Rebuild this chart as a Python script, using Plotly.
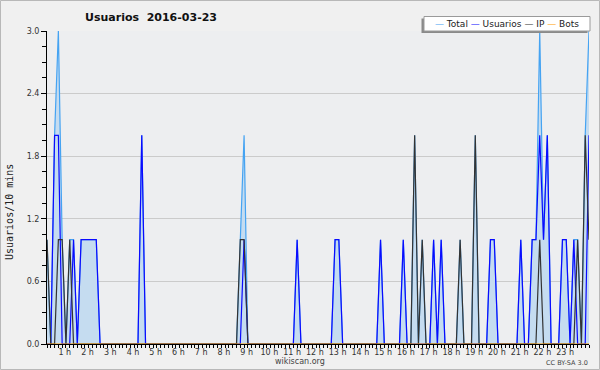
import plotly.graph_objects as go

# ---- data: 10-minute counts for 2016-03-23 (one row per hour, 6 values) ----
total_rows = [
    [1, 0, 2, 3, 1, 0], [1, 1, 0, 1, 1, 1], [1, 1, 0, 0, 0, 0], [0, 0, 0, 0, 0, 0],
    [0, 2, 0, 0, 0, 0], [0, 0, 0, 0, 0, 0], [0, 0, 0, 0, 0, 0], [0, 0, 0, 0, 0, 0],
    [0, 0, 0, 1, 2, 0], [0, 0, 0, 0, 0, 0], [0, 0, 0, 0, 0, 0], [1, 0, 0, 0, 0, 0],
    [0, 0, 0, 0, 1, 1], [0, 0, 0, 0, 0, 0], [0, 0, 0, 0, 1, 0], [0, 0, 0, 0, 1, 0],
    [0, 2, 0, 1, 0, 0], [1, 0, 1, 0, 0, 0], [0, 1, 0, 0, 0, 2], [0, 0, 0, 1, 1, 0],
    [0, 0, 0, 0, 0, 1], [0, 0, 1, 1, 3, 1], [2, 0, 0, 0, 1, 1], [0, 1, 1, 0, 2, 3],
]
usuarios_rows = [
    [0, 0, 2, 2, 0, 0], [0, 1, 0, 1, 1, 1], [1, 1, 0, 0, 0, 0], [0, 0, 0, 0, 0, 0],
    [0, 2, 0, 0, 0, 0], [0, 0, 0, 0, 0, 0], [0, 0, 0, 0, 0, 0], [0, 0, 0, 0, 0, 0],
    [0, 0, 0, 0, 1, 0], [0, 0, 0, 0, 0, 0], [0, 0, 0, 0, 0, 0], [1, 0, 0, 0, 0, 0],
    [0, 0, 0, 0, 1, 1], [0, 0, 0, 0, 0, 0], [0, 0, 0, 0, 1, 0], [0, 0, 0, 0, 1, 0],
    [0, 0, 0, 0, 0, 0], [1, 0, 1, 0, 0, 0], [0, 0, 0, 0, 0, 0], [0, 0, 0, 1, 1, 0],
    [0, 0, 0, 0, 0, 1], [0, 0, 1, 1, 2, 1], [2, 0, 0, 0, 1, 1], [0, 1, 0, 0, 0, 2],
]
ip_rows = [
    [1, 0, 0, 1, 1, 0], [1, 0, 0, 0, 0, 0], [0, 0, 0, 0, 0, 0], [0, 0, 0, 0, 0, 0],
    [0, 0, 0, 0, 0, 0], [0, 0, 0, 0, 0, 0], [0, 0, 0, 0, 0, 0], [0, 0, 0, 0, 0, 0],
    [0, 0, 0, 1, 1, 0], [0, 0, 0, 0, 0, 0], [0, 0, 0, 0, 0, 0], [0, 0, 0, 0, 0, 0],
    [0, 0, 0, 0, 0, 0], [0, 0, 0, 0, 0, 0], [0, 0, 0, 0, 0, 0], [0, 0, 0, 0, 0, 0],
    [0, 2, 0, 1, 0, 0], [0, 0, 0, 0, 0, 0], [0, 1, 0, 0, 0, 2], [0, 0, 0, 0, 0, 0],
    [0, 0, 0, 0, 0, 0], [0, 0, 0, 0, 1, 0], [0, 0, 0, 0, 0, 0], [0, 0, 1, 0, 2, 1],
]
bots_rows = [[0, 0, 0, 0, 0, 0] for _ in range(24)]

tick_hours = [1, 2, 3, 4, 5, 6, 7, 8, 9, 10, 11, 12, 13, 14, 15, 16, 17, 18, 19, 20, 21, 22, 23]
tick_labels = ["1 h", "2 h", "3 h", "4 h", "5 h", "6 h", "7 h", "8 h", "9 h", "10 h", "11 h", "12 h",
               "13 h", "14 h", "15 h", "16 h", "17 h", "18 h", "19 h", "20 h", "21 h", "22 h", "23 h"]
y_ticks = [0.0, 0.6, 1.2, 1.8, 2.4, 3.0]
y_labels = ["0.0", "0.6", "1.2", "1.8", "2.4", "3.0"]

total = [v for r in total_rows for v in r]
usuarios = [v for r in usuarios_rows for v in r]
ip = [v for r in ip_rows for v in r]
bots = [v for r in bots_rows for v in r]
x = [i / 6 for i in range(len(total))]  # time in hours (10-minute steps)

# ---- layout geometry (pixels) ----
W, H = 600, 370
ML, MR, MT, MB = 47, 11, 31, 26
PW, PH = W - ML - MR, H - MT - MB


def px(xp):
    return (xp - ML) / PW


def py(yp):
    return (H - MB - yp) / PH


C_TOTAL = "#45a3f2"
C_US = "#0a0aff"
C_IP = "#333333"
C_BOTS = "#ff9c00"

fig = go.Figure()
fig.add_trace(go.Scatter(x=x, y=total, mode="lines", name="Total",
                         line=dict(color=C_TOTAL, width=1.2), fill="tozeroy",
                         fillcolor="#c5dcf0", showlegend=False))
fig.add_trace(go.Scatter(x=x, y=usuarios, mode="lines", name="Usuarios",
                         line=dict(color=C_US, width=1.2), showlegend=False))
fig.add_trace(go.Scatter(x=x, y=ip, mode="lines", name="IP",
                         line=dict(color=C_IP, width=1.2), showlegend=False))
fig.add_trace(go.Scatter(x=x, y=bots, mode="lines", name="Bots",
                         line=dict(color=C_BOTS, width=1.2), showlegend=False))

font_main = "DejaVu Sans"

fig.update_layout(
    width=W, height=H,
    margin=dict(l=ML, r=MR, t=MT, b=MB, pad=0),
    paper_bgcolor="#f0f0f0",
    plot_bgcolor="#edeef0",
    font=dict(family=font_main, size=8, color="#333333"),
    title=dict(text="Usuarios\u00a0\u00a02016-03-23", x=151 / W, xanchor="center",
               y=1 - 17 / H, yanchor="middle",
               font=dict(family=font_main, size=11, color="#111111", weight="bold")),
    xaxis=dict(range=[0, x[-1]], showgrid=False, zeroline=False,
               showline=True, linecolor="black", linewidth=1,
               ticks="outside", ticklen=3, tickcolor="black", tickwidth=1,
               tickvals=tick_hours, ticktext=tick_labels,
               tickfont=dict(family=font_main, size=8, color="#333333"),
               ticklabelshift=-5, ticklabelstandoff=-3,
               minor=dict(dtick=1 / 6, tick0=0, ticks="outside", ticklen=3,
                          tickcolor="black", tickwidth=1, showgrid=False)),
    yaxis=dict(range=[0, 3], showgrid=True, gridcolor="#cbcbcb", gridwidth=1,
               zeroline=False, showline=True, linecolor="black", linewidth=1,
               ticks="outside", ticklen=5, tickcolor="black", tickwidth=1,
               tickvals=y_ticks, ticktext=y_labels,
               tickfont=dict(family=font_main, size=8, color="#333333"),
               minor=dict(dtick=0.15, tick0=0, ticks="outside", ticklen=4,
                          tickcolor="black", tickwidth=1, showgrid=False)),
    showlegend=False,
)

# figure border
fig.add_shape(type="rect", xref="paper", yref="paper",
              x0=px(0.5), x1=px(W - 0.5), y0=py(H - 0.5), y1=py(0.5),
              line=dict(color="#b8b8b8", width=1), fillcolor="rgba(0,0,0,0)", layer="above")

# legend box with shadow
LX0, LX1, LY0, LY1 = 424, 590, 16.5, 31
fig.add_shape(type="rect", xref="paper", yref="paper",
              x0=px(LX0 - 2.5), x1=px(LX1 - 2.5), y0=py(LY1 + 2), y1=py(LY0 + 2),
              line=dict(width=0), fillcolor="#8a8a8a", layer="above")
fig.add_shape(type="rect", xref="paper", yref="paper",
              x0=px(LX0), x1=px(LX1), y0=py(LY1), y1=py(LY0),
              line=dict(color="#9a9a9a", width=1), fillcolor="white", layer="above")
legend_text = (f"<span style='color:{C_TOTAL}'>—</span> Total "
               f"<span style='color:{C_US}'>—</span> Usuarios "
               f"<span style='color:{C_IP}'>—</span> IP "
               f"<span style='color:{C_BOTS}'>—</span> Bots")
fig.add_annotation(text=legend_text, xref="paper", yref="paper",
                   x=px((LX0 + LX1) / 2), y=py((LY0 + LY1) / 2),
                   xanchor="center", yanchor="middle", showarrow=False,
                   font=dict(family=font_main, size=9, color="#222222"))

# y-axis title
fig.add_annotation(text="Usuarios/10 mins", xref="paper", yref="paper",
                   x=px(9), y=py(212), xanchor="center", yanchor="middle",
                   textangle=-90, showarrow=False,
                   font=dict(family="DejaVu Sans Mono", size=10, color="#222222"))

# footer texts
fig.add_annotation(text="wikiscan.org", xref="paper", yref="paper",
                   x=px(300), y=py(361.5), xanchor="center", yanchor="middle",
                   showarrow=False, font=dict(family=font_main, size=8, color="#444444"))
fig.add_annotation(text="CC BY-SA 3.0", xref="paper", yref="paper",
                   x=px(590), y=py(363), xanchor="right", yanchor="middle",
                   showarrow=False, font=dict(family=font_main, size=6.5, color="#444444"))

fig.write_html("out.html")
